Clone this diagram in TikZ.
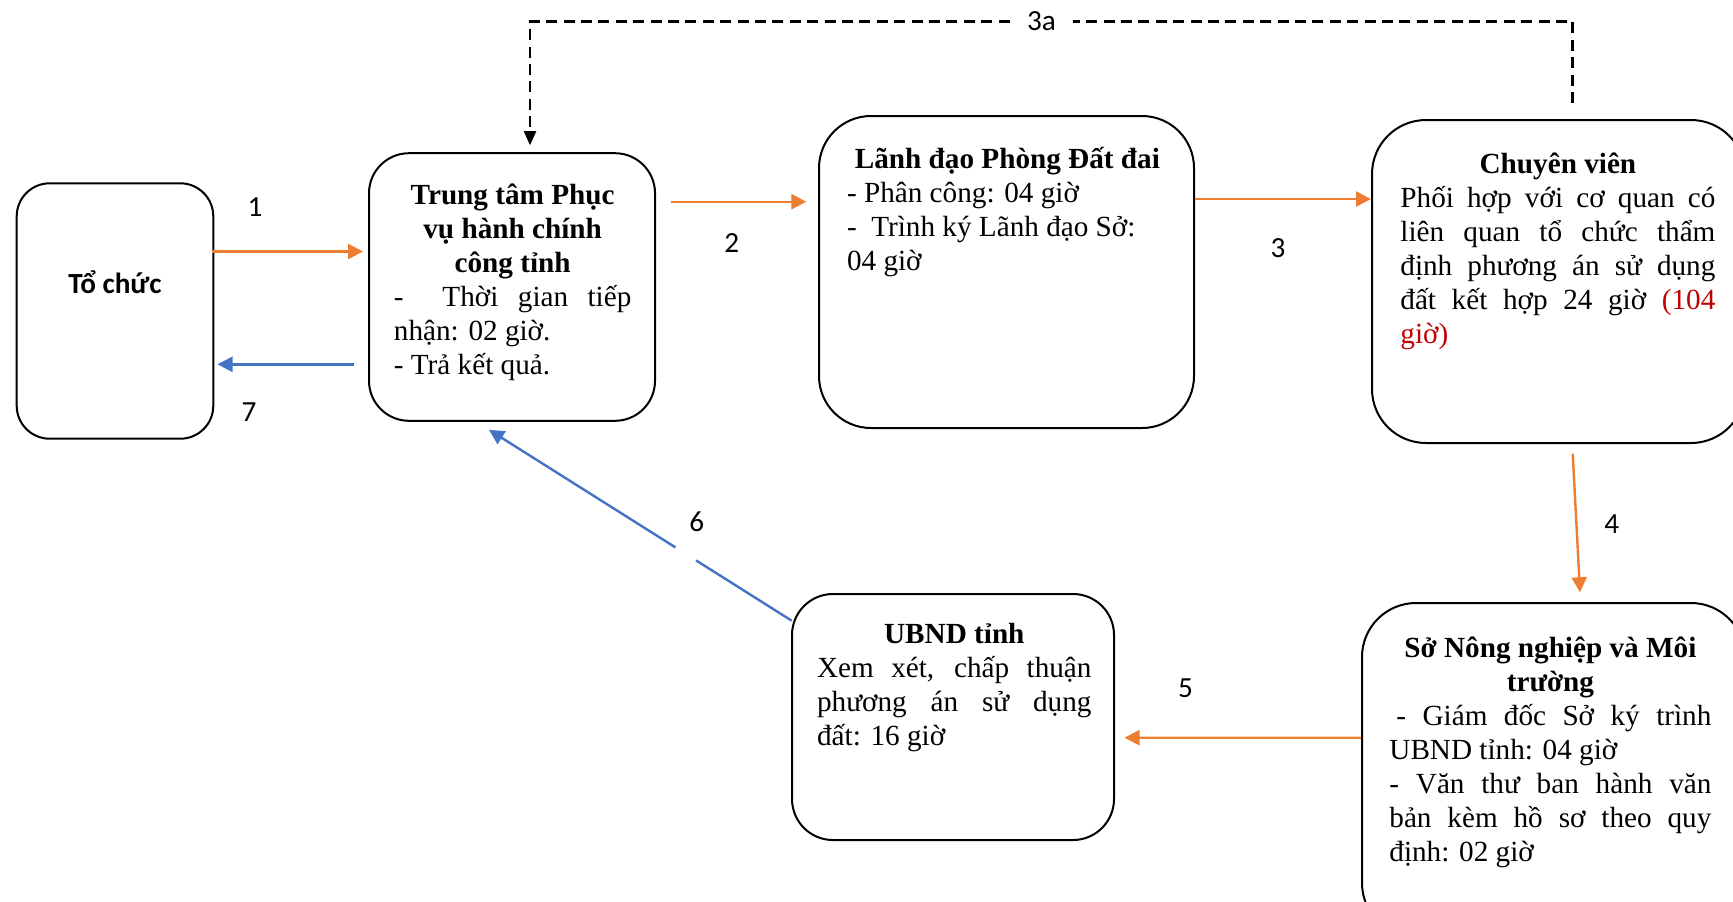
\documentclass[tikz,border=0pt]{standalone}
\usepackage{fontspec}
\setmainfont{Liberation Serif}
\newfontfamily\calibri{Carlito}
\usetikzlibrary{arrows.meta,calc}
\definecolor{oarr}{HTML}{ED7D31}
\definecolor{barr}{HTML}{4472C4}
\definecolor{redt}{HTML}{C00000}
\tolerance=10000
\hyphenpenalty=10000
\hbadness=10000
\tikzset{
  box/.style={draw=black, line width=1pt, inner sep=0pt},
  txt/.style={inner sep=0pt, anchor=base west, align=justify,
    font=\fontsize{14.6}{16.95}\selectfont},
  lbl/.style={inner sep=0pt, font=\calibri\fontsize{14.6}{16.8}\selectfont},
  oline/.style={draw=oarr, line width=1.2pt, -{Triangle[length=7.5pt,width=7.5pt]}},
  bline/.style={draw=barr, line width=1.2pt, -{Triangle[length=7.5pt,width=7.5pt]}},
  dline/.style={draw=black, line width=1.1pt, dash pattern=on 5.5pt off 3.2pt},
}
\begin{document}
\begin{tikzpicture}[x=0.5pt,y=-0.5pt]
\useasboundingbox (0,0) rectangle (1733,901);
\clip (0,0) rectangle (1733,901);

% boxes
\node[box, minimum width=98.3pt, minimum height=127.7pt, rounded corners=16.5pt] (toc) at (115,311) {};
\node[box, minimum width=143pt, minimum height=133.8pt, rounded corners=20pt] (ttam) at (512,287) {};
\node[box, minimum width=187.5pt, minimum height=156pt, rounded corners=26pt] (ldao) at (1006.5,272) {};
\node[box, minimum width=186.5pt, minimum height=161.5pt, rounded corners=27pt] (cv) at (1558.5,281.5) {};
\node[box, minimum width=161pt, minimum height=123pt, rounded corners=20.5pt] (ubnd) at (953,717) {};
\node[box, minimum width=191.5pt, minimum height=167pt, rounded corners=27pt] (sonn) at (1553.5,770) {};

% texts
\node[inner sep=0pt, font=\calibri\bfseries\fontsize{14.6}{16.8}\selectfont] (toct) at (115,282) {Tổ chức};

\node[txt, text width=118.75pt] (ttamt) at (393.5,204.8) {{\centering\bfseries Trung tâm Phục\\ vụ hành chính\\ công tỉnh\par}-\ \ Thời gian tiếp\linebreak nhận: 02 giờ.\par - Trả kết quả.};

\node[txt, text width=160.4pt] (ldaot) at (846.6,168.3) {{\centering\bfseries Lãnh đạo Phòng Đất đai\par}- Phân công: 04 giờ\\ -\ \ Trình ký Lãnh đạo Sở:\\ 04 giờ};

\node[txt, text width=157.5pt] (cvt) at (1400,173.9) {{\centering\bfseries Chuyên viên\par}Phối hợp với cơ quan có\linebreak liên quan tổ chức thẩm\linebreak định phương án sử dụng\linebreak đất kết hợp 24 giờ \textcolor{redt}{(104\linebreak giờ)}};

\node[txt, text width=137.2pt] (ubndt) at (816.7,643.3) {{\centering\bfseries UBND tỉnh\par}Xem xét, chấp thuận\linebreak phương án sử dụng\linebreak đất: 16 giờ};

\node[txt, text width=161pt] (sonnt) at (1389,657.9) {{\centering\bfseries Sở Nông nghiệp và Môi\\ trường\par}\hskip3.5pt- Giám đốc Sở ký trình\linebreak UBND tỉnh: 04 giờ\par - Văn thư ban hành văn\linebreak bản kèm hồ sơ theo quy\linebreak định: 02 giờ};

% labels
\node[lbl] (l1) at (255,207.3) {1};
\node[lbl] (l7) at (249,411.7) {7};
\node[lbl] (l2) at (731.7,243) {2};
\node[lbl] (l3) at (1278,248.3) {3};
\node[lbl] (l4) at (1611.7,524) {4};
\node[lbl] (l5) at (1185.5,688.3) {5};
\node[lbl] (l6) at (696.7,521.7) {6};
\node[lbl, minimum width=31.5pt] (l3a) at (1041.5,21.5) {3a};

% connectors
\draw[oline] ($(toc.east)+(-2,-59.5)$) -- ($(ttam.west)+(-5,-35.5)$);
\draw[bline] ($(ttam.west)+(-14,77.3)$) -- ($(toc.east)+(3.2,53.3)$);
\draw[oline] ($(ttam.east)+(15,-85.3)$) -- ($(ldao.west)+(-11.7,-70.3)$);
\draw[oline] ($(ldao.east)+(0,-73)$) -- ($(cv.west)+(0,-82.5)$);
\draw[oline] ($(cv.south)+(14.2,9.7)$) -- ($(sonn.north)+(26.5,-9.7)$);
\draw[oline] ($(sonn.west)+(0,-32.3)$) -- ($(ubnd.east)+(9.5,20.7)$);
\coordinate (s6) at ($(ubnd.north west)+(0.7,27.7)$);
\coordinate (e6) at ($(ttam.south)+(-23,8)$);
\draw[draw=barr, line width=1.2pt] (s6) -- ($(s6)!0.316!(e6)$);
\draw[bline] ($(s6)!0.384!(e6)$) -- (e6);
\draw[dline] ($(cv.north)+(14,-16)$) |- (l3a.east);
\draw[dline, -{Triangle[length=7pt,width=6pt]}] (l3a.west) -| ($(ttam.north)+(18,-7)$);
\end{tikzpicture}
\end{document}
